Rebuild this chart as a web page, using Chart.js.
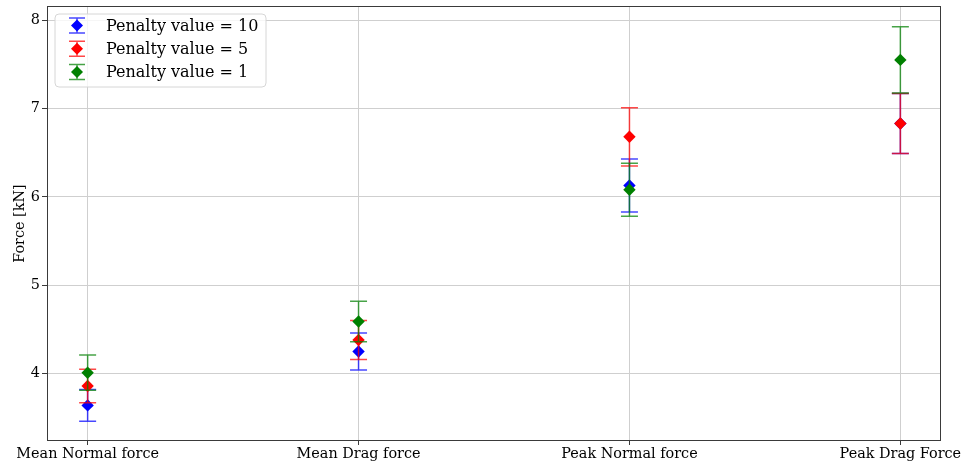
<!DOCTYPE html>
<html><head><meta charset="utf-8">
<script src="https://cdn.jsdelivr.net/npm/chart.js@4/dist/chart.umd.min.js"></script>
<style>html,body{margin:0;padding:0;background:#fff;}#wrap{width:962px;height:465px;}</style>
</head><body><div id="wrap"><canvas id="c" width="962" height="465"></canvas></div>
<script>
const categories = ['Mean Normal force', 'Mean Drag force', 'Peak Normal force', 'Peak Drag Force'];
const seriesLabels = ['Penalty value = 10', 'Penalty value = 5', 'Penalty value = 1'];
const penalty10 = [3.64, 4.25, 6.13, 6.83];
const penalty10Err = [0.18, 0.21, 0.30, 0.34];
const penalty5 = [3.86, 4.38, 6.68, 6.83];
const penalty5Err = [0.19, 0.22, 0.33, 0.34];
const penalty1 = [4.01, 4.59, 6.08, 7.55];
const penalty1Err = [0.20, 0.23, 0.30, 0.375];
const yTicks = [4, 5, 6, 7, 8];
const seriesColors = ['#0000ff', '#ff0000', '#008000'];
const seriesValues = [penalty10, penalty5, penalty1];
const seriesErrors = [penalty10Err, penalty5Err, penalty1Err];

const FONT = "'DejaVu Serif', 'Liberation Serif', serif";
const ERR_ALPHA = 0.72;

function rgba(hex, a) {
  const n = parseInt(hex.slice(1), 16);
  return `rgba(${(n >> 16) & 255},${(n >> 8) & 255},${n & 255},${a})`;
}

const datasets = seriesValues.map((vals, s) => ({
  label: seriesLabels[s],
  data: vals.map((v, i) => ({ x: i, y: v })),
  errors: seriesErrors[s],
  showLine: false,
  pointStyle: 'rectRot',
  pointRadius: 6.2,
  pointHoverRadius: 6.2,
  backgroundColor: seriesColors[s],
  borderColor: seriesColors[s],
  borderWidth: 0,
  order: 3 - s
}));

const errorBarPlugin = {
  id: 'errorBars',
  beforeDatasetDraw(chart, args) {
    const ds = chart.data.datasets[args.index];
    const meta = args.meta;
    const y = chart.scales.y;
    const ctx = chart.ctx;
    ctx.save();
    ctx.strokeStyle = rgba(seriesColors[args.index], ERR_ALPHA);
    ctx.lineWidth = 1.5;
    meta.data.forEach((pt, i) => {
      const v = ds.data[i].y, e = ds.errors[i];
      const top = y.getPixelForValue(v + e), bot = y.getPixelForValue(v - e);
      const x = pt.x;
      ctx.beginPath();
      ctx.moveTo(x, top); ctx.lineTo(x, bot);
      ctx.moveTo(x - 8.5, top); ctx.lineTo(x + 8.5, top);
      ctx.moveTo(x - 8.5, bot); ctx.lineTo(x + 8.5, bot);
      ctx.stroke();
    });
    ctx.restore();
  }
};

const framePlugin = {
  id: 'frame',
  beforeDatasetsDraw(chart) {
    const a = chart.chartArea, ctx = chart.ctx;
    ctx.save();
    ctx.strokeStyle = '#3a3a3a';
    ctx.lineWidth = 1;
    ctx.strokeRect(Math.round(a.left) + 0.5, Math.round(a.top) + 0.5, Math.round(a.right - a.left) - 1, Math.round(a.bottom - a.top) - 1);
    ctx.restore();
  }
};

const legendPlugin = {
  id: 'boxLegend',
  afterDraw(chart) {
    const ctx = chart.ctx;
    const bx = 55, by = 14, bw = 211, bh = 73, r = 4;
    ctx.save();
    ctx.beginPath();
    ctx.moveTo(bx + r, by);
    ctx.arcTo(bx + bw, by, bx + bw, by + bh, r);
    ctx.arcTo(bx + bw, by + bh, bx, by + bh, r);
    ctx.arcTo(bx, by + bh, bx, by, r);
    ctx.arcTo(bx, by, bx + bw, by, r);
    ctx.closePath();
    ctx.fillStyle = 'rgba(255,255,255,0.8)';
    ctx.fill();
    ctx.strokeStyle = '#d6d6d6';
    ctx.lineWidth = 1;
    ctx.stroke();
    chart.data.datasets.forEach((ds, s) => {
      const cy = 25.5 + s * 23.3;
      const cx = 77;
      const c = seriesColors[s];
      ctx.strokeStyle = rgba(c, ERR_ALPHA);
      ctx.lineWidth = 1.5;
      ctx.beginPath();
      ctx.moveTo(cx, cy - 7.5); ctx.lineTo(cx, cy + 7.5);
      ctx.moveTo(cx - 8, cy - 7.5); ctx.lineTo(cx + 8, cy - 7.5);
      ctx.moveTo(cx - 8, cy + 7.5); ctx.lineTo(cx + 8, cy + 7.5);
      ctx.stroke();
      ctx.fillStyle = c;
      ctx.beginPath();
      ctx.moveTo(cx, cy - 6); ctx.lineTo(cx + 6, cy); ctx.lineTo(cx, cy + 6); ctx.lineTo(cx - 6, cy);
      ctx.closePath();
      ctx.fill();
      ctx.fillStyle = '#000';
      ctx.font = `16px ${FONT}`;
      ctx.textBaseline = 'middle';
      ctx.textAlign = 'left';
      ctx.fillText(ds.label, 106, cy + 1);
    });
    ctx.restore();
  }
};

new Chart(document.getElementById('c'), {
  type: 'scatter',
  data: { datasets },
  plugins: [errorBarPlugin, framePlugin, legendPlugin],
  options: {
    responsive: false,
    animation: false,
    devicePixelRatio: 1,
    layout: { padding: { left: 0, right: 21, top: 5, bottom: 0 } },
    plugins: { legend: { display: false }, tooltip: { enabled: false } },
    scales: {
      x: {
        type: 'linear', min: -0.15, max: 3.15,
        afterBuildTicks: s => { s.ticks = categories.map((c, i) => ({ value: i })); },
        afterFit: s => { s.height = 24; s.paddingLeft = 0; s.paddingRight = 0; },
        ticks: { callback: v => categories[v], font: { family: FONT, size: 14.4 }, color: '#000', padding: 1, maxRotation: 0, autoSkip: false },
        grid: { color: '#cfcfcf', lineWidth: 1, tickLength: 4, tickColor: '#3a3a3a' },
        border: { display: false }
      },
      y: {
        min: 3.237, max: 8.158,
        afterBuildTicks: s => { s.ticks = yTicks.map(v => ({ value: v })); },
        afterFit: s => { s.width = 47; s.paddingTop = 0; s.paddingBottom = 0; },
        ticks: { font: { family: FONT, size: 14.4 }, color: '#000', padding: 2 },
        title: { display: true, text: 'Force [kN]', font: { family: FONT, size: 14.4 }, color: '#000', padding: { top: 12, bottom: 0 } },
        grid: { color: '#cfcfcf', lineWidth: 1, tickLength: 5, tickColor: '#3a3a3a' },
        border: { display: false }
      }
    }
  }
});
</script></body></html>
